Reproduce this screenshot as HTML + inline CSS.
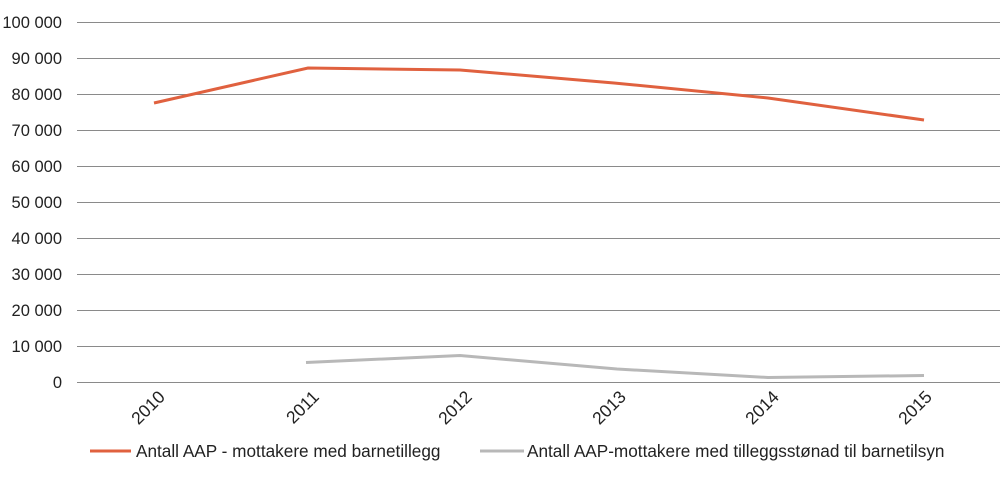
<!DOCTYPE html>
<html><head><meta charset="utf-8"><style>
html,body{margin:0;padding:0;background:#fff;}
svg{display:block;font-family:"Liberation Sans",Arial,sans-serif;}
</style></head><body>
<svg width="1000" height="477" viewBox="0 0 1000 477" xmlns="http://www.w3.org/2000/svg">
<g stroke="#8a8a8a" stroke-width="1">
<line x1="77" y1="22.5" x2="1000" y2="22.5"/>
<line x1="77" y1="58.5" x2="1000" y2="58.5"/>
<line x1="77" y1="94.5" x2="1000" y2="94.5"/>
<line x1="77" y1="130.5" x2="1000" y2="130.5"/>
<line x1="77" y1="166.5" x2="1000" y2="166.5"/>
<line x1="77" y1="202.5" x2="1000" y2="202.5"/>
<line x1="77" y1="238.5" x2="1000" y2="238.5"/>
<line x1="77" y1="274.5" x2="1000" y2="274.5"/>
<line x1="77" y1="310.5" x2="1000" y2="310.5"/>
<line x1="77" y1="346.5" x2="1000" y2="346.5"/>
<line x1="77" y1="382.5" x2="1000" y2="382.5"/>
</g>
<g font-size="16.5" fill="#222" text-anchor="end">
<text x="62" y="28">100 000</text>
<text x="62" y="64">90 000</text>
<text x="62" y="100">80 000</text>
<text x="62" y="136">70 000</text>
<text x="62" y="172">60 000</text>
<text x="62" y="208">50 000</text>
<text x="62" y="244">40 000</text>
<text x="62" y="280">30 000</text>
<text x="62" y="316">20 000</text>
<text x="62" y="352">10 000</text>
<text x="62" y="388">0</text>
</g>
<g font-size="17.5" fill="#222" text-anchor="end">
<text transform="translate(166,398) rotate(-45)">2010</text>
<text transform="translate(320,398) rotate(-45)">2011</text>
<text transform="translate(473,398) rotate(-45)">2012</text>
<text transform="translate(627,398) rotate(-45)">2013</text>
<text transform="translate(780,398) rotate(-45)">2014</text>
<text transform="translate(933,398) rotate(-45)">2015</text>
</g>
<polyline fill="none" stroke="#e0613f" stroke-width="3" points="154,103 308,68 460,70 614,83 768,98 924,120"/>
<polyline fill="none" stroke="#b8b8b8" stroke-width="3" points="306,362.5 460,355.5 617,369 768,377.5 924,375.5"/>
<line x1="90" y1="451" x2="131" y2="451" stroke="#e0613f" stroke-width="3"/>
<text x="136" y="457" font-size="17.2" fill="#222">Antall AAP - mottakere med barnetillegg</text>
<line x1="480" y1="451" x2="524" y2="451" stroke="#b8b8b8" stroke-width="3"/>
<text x="527" y="457" font-size="17.2" fill="#222">Antall AAP-mottakere med tilleggsstønad til barnetilsyn</text>
</svg>
</body></html>
